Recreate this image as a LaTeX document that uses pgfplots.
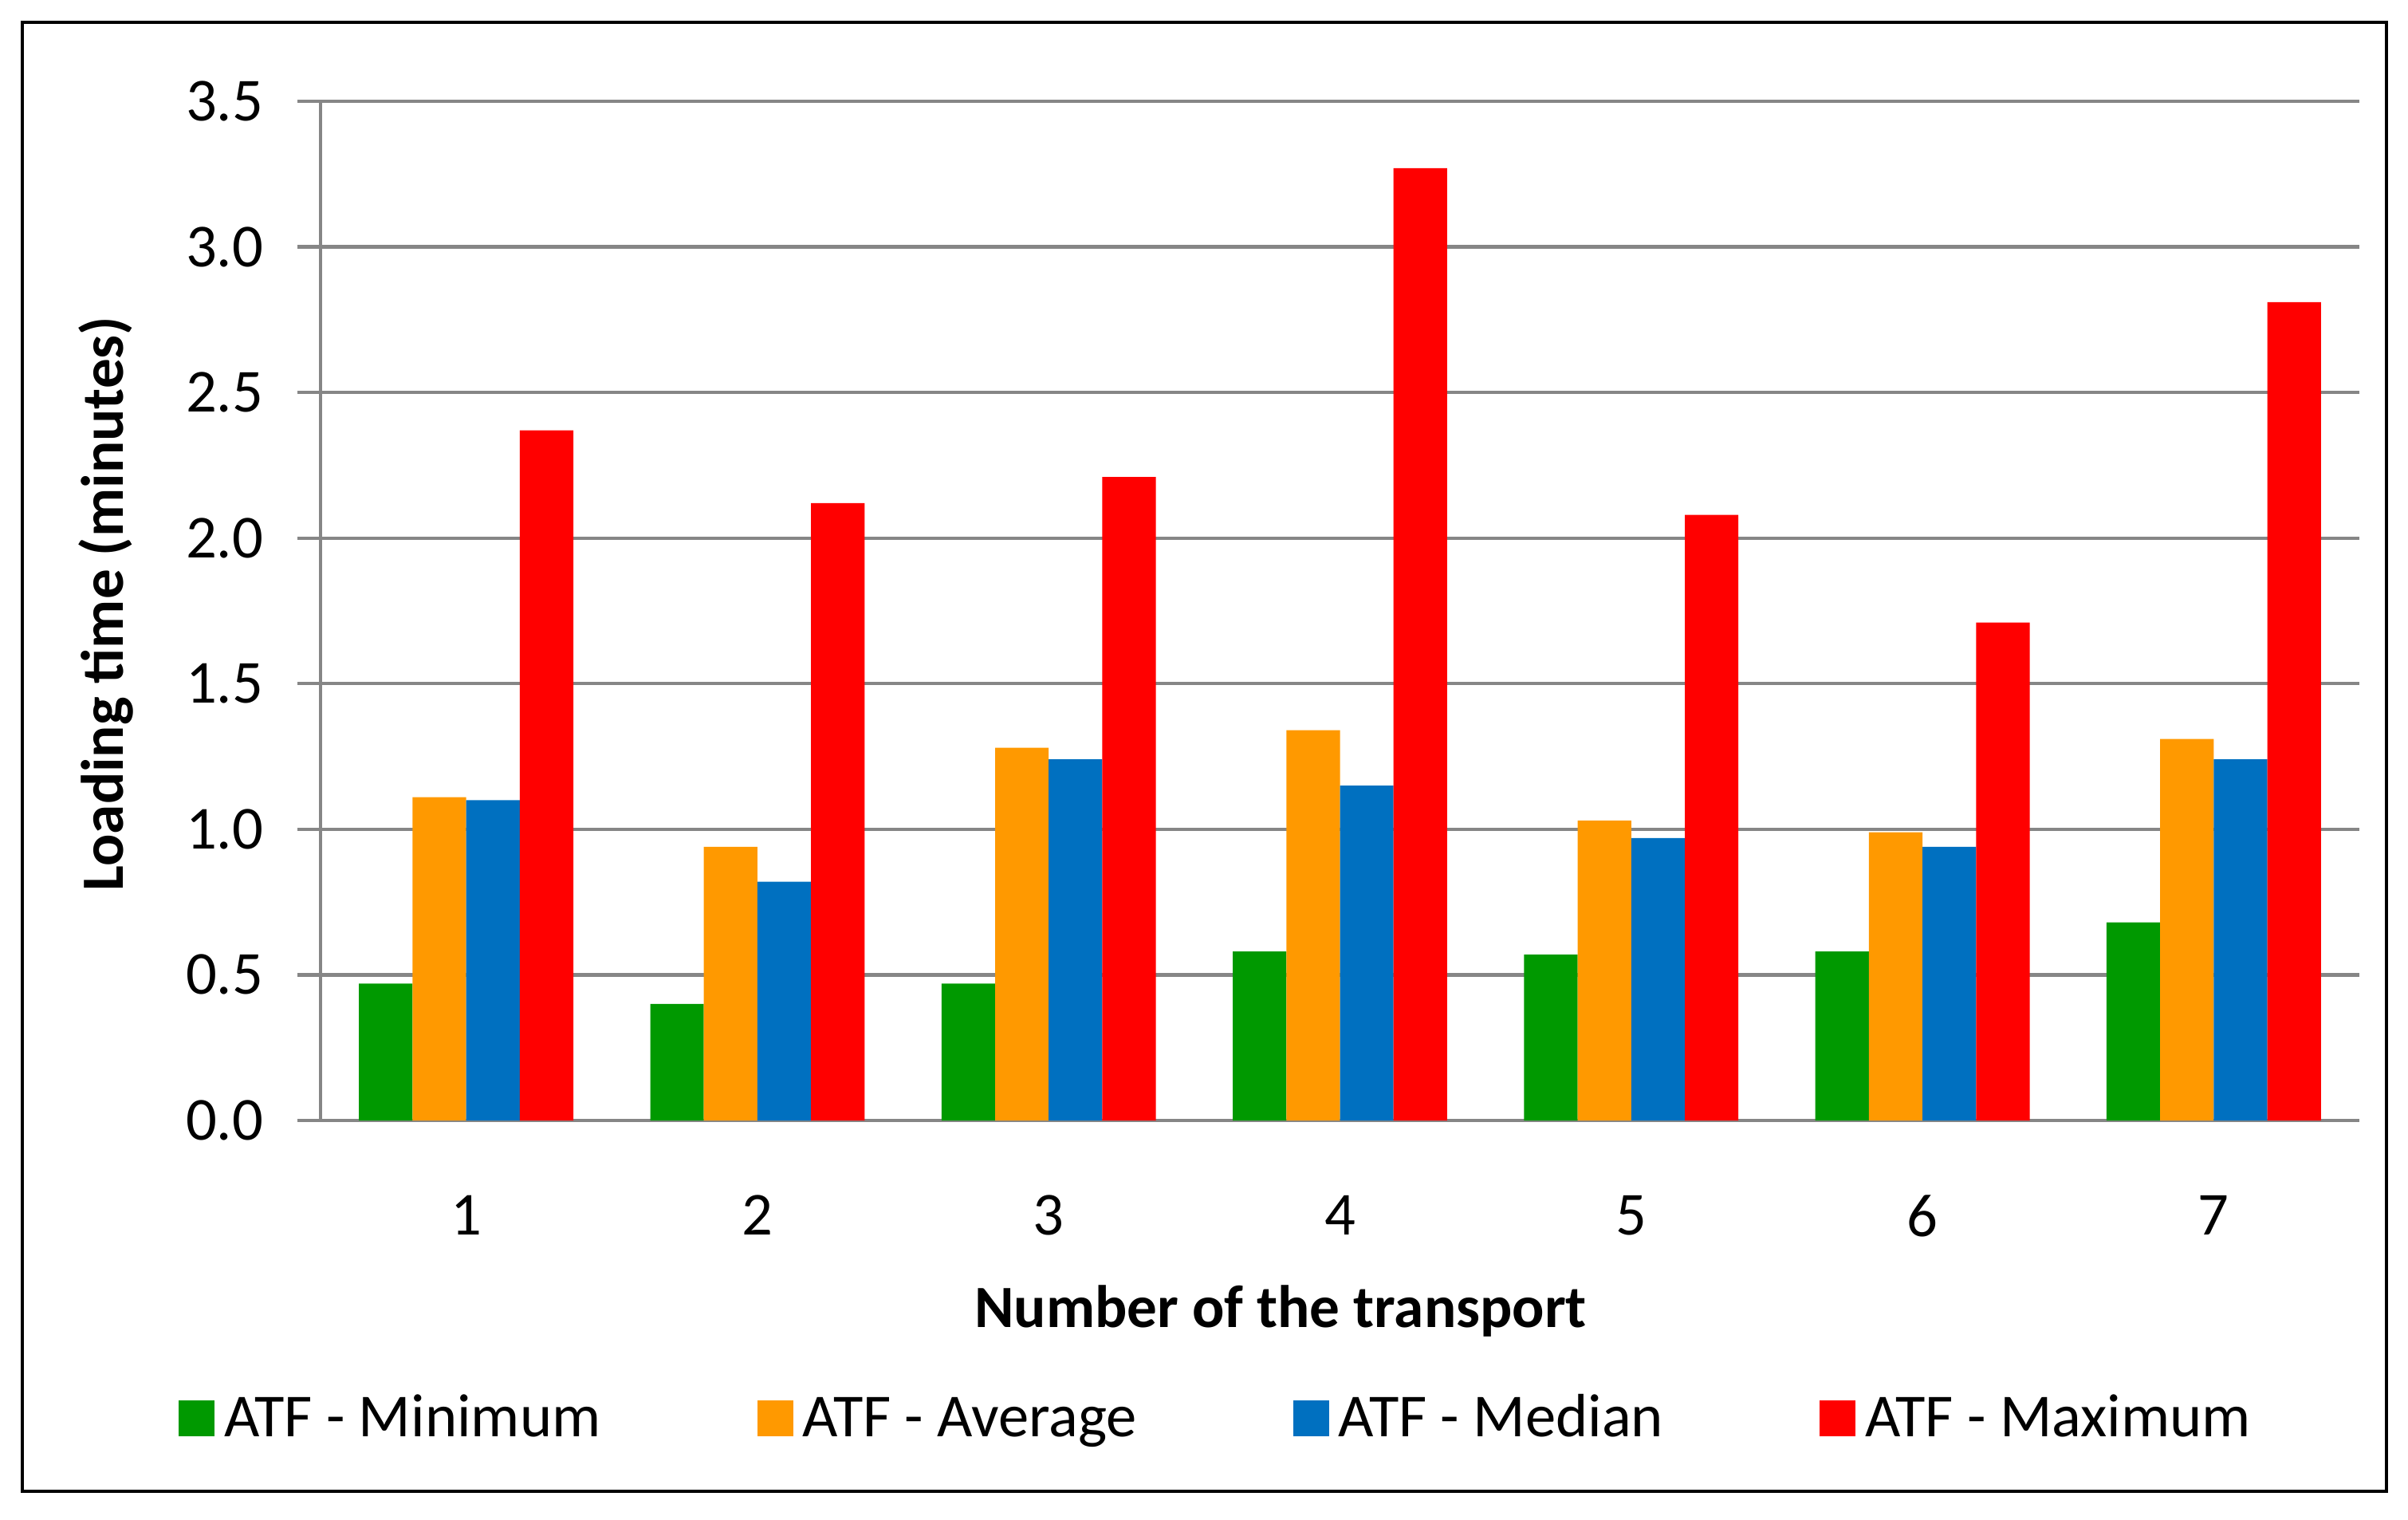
\documentclass[border=0pt]{standalone}
\usepackage{fontspec}
\setmainfont{Carlito}
\usepackage{pgfplots}
\usepackage{pgfplotstable}
\pgfplotsset{compat=1.18}
\definecolor{cgreen}{RGB}{0,153,0}
\definecolor{corange}{RGB}{255,153,0}
\definecolor{cblue}{RGB}{0,112,192}
\definecolor{cred}{RGB}{255,0,0}
\definecolor{gridgray}{RGB}{134,134,134}
\pgfplotstableread{
x minv avgv medv maxv
1 0.47 1.11 1.10 2.37
2 0.40 0.94 0.82 2.12
3 0.47 1.28 1.24 2.21
4 0.58 1.34 1.15 3.27
5 0.57 1.03 0.97 2.08
6 0.58 0.99 0.94 1.71
7 0.68 1.31 1.24 2.81
}\datatable
\newcommand{\tickfont}{\fontsize{10.9}{13}\selectfont}
\newcommand{\titlefont}{\fontsize{10.7}{13}\selectfont\bfseries}
\newcommand{\legfont}{\fontsize{10.9}{13}\selectfont}
\begin{document}
\tickfont
\begin{tikzpicture}
\useasboundingbox (-20.1mm,-25mm) rectangle (130.9mm,70.25mm);
\draw[line width=0.24mm] (-18.7mm,-23.25mm) rectangle (129.55mm,68.85mm);
\begin{axis}[
  at={(0,0)}, anchor=south west, scale only axis,
  width=127.85mm, height=63.9mm,
  xmin=0.5, xmax=7.5, ymin=0, ymax=3.5,
  ybar=0pt, bar width=3.36mm,
  xtick={1,2,3,4,5,6,7},
  ytick={0,0.5,1,1.5,2,2.5,3,3.5},
  /pgf/number format/assume math mode=true,
  ticklabel style={font=\tickfont},
  yticklabel style={xshift=-0.8mm, /pgf/number format/.cd, fixed, fixed zerofill, precision=1},
  axis x line*=bottom, axis y line*=left,
  axis line style={draw=gridgray, line width=0.22mm, -},
  ymajorgrids, grid style={draw=gridgray, line width=0.22mm},
  tick align=outside, major tick length=1.45mm,
  ytick style={draw=gridgray, line width=0.22mm},
  xtick style={draw=none},
  xticklabel style={yshift=-1.9mm},
  legend columns=4,
  legend style={at={(-0.0696,-0.3232)}, anchor=south west, draw=none, fill=none,
    inner sep=0pt, outer sep=0pt, font=\legfont,
    nodes={inner sep=0pt, outer sep=0pt, text depth=0.22em, text height=0.80em},
    /tikz/every odd column/.append style={column sep=0.6mm},
    /tikz/every even column/.append style={column sep=9.8mm}},
  legend cell align=left,
  legend image code/.code={\fill[#1] (0mm,-1.125mm) rectangle (2.25mm,1.125mm);},
]
\addplot[fill=cgreen, draw=none] table[x=x, y=minv] {\datatable};
\addplot[fill=corange, draw=none] table[x=x, y=avgv] {\datatable};
\addplot[fill=cblue, draw=none] table[x=x, y=medv] {\datatable};
\addplot[fill=cred, draw=none] table[x=x, y=maxv] {\datatable};
\legend{ATF - Minimum, ATF - Average, ATF - Median, ATF - Maximum}
\end{axis}
\node[anchor=base, font=\titlefont] at (60.2mm,-12.95mm) {Number of the transport};
\node[anchor=base, rotate=90, font=\titlefont] at (-12.4mm,32.4mm) {Loading time (minutes)};
\end{tikzpicture}
\end{document}
